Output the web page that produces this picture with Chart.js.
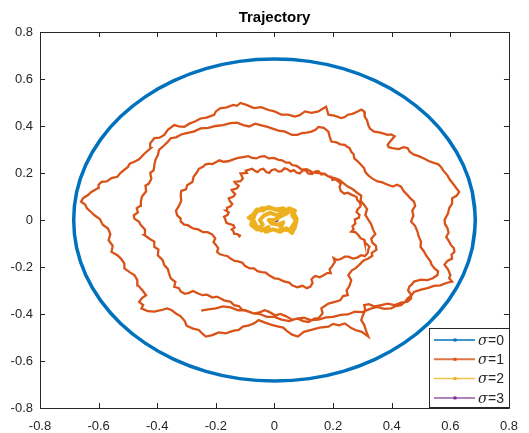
<!DOCTYPE html>
<html>
<head>
<meta charset="utf-8">
<title>Trajectory</title>
<script src="https://cdn.jsdelivr.net/npm/chart.js@4.4.1/dist/chart.umd.min.js"></script>
<style>
  html, body { margin: 0; padding: 0; background: #fff; }
  canvas { display: block; }
</style>
</head>
<body>
<canvas id="traj" width="529" height="433"></canvas>
<script>
// tick values for both axes
const tickValues = [-0.8, -0.6, -0.4, -0.2, 0, 0.2, 0.4, 0.6, 0.8];

// legend labels, one per noise level
const sigmaLabels = ['0', '1', '2', '3'];

// sigma = 0 : noise-free orbit (first/last points overlap so the curve closes smoothly)
const orbit0 = [
  [0.675, -0.119],
  [0.685, 0], [0.675, 0.119], [0.644, 0.234], [0.593, 0.343], [0.525, 0.440],
  [0.440, 0.525], [0.343, 0.593], [0.234, 0.644], [0.119, 0.675], [0, 0.685],
  [-0.119, 0.675], [-0.234, 0.644], [-0.343, 0.593], [-0.440, 0.525], [-0.525, 0.440],
  [-0.593, 0.343], [-0.644, 0.234], [-0.675, 0.119], [-0.685, 0], [-0.675, -0.119],
  [-0.644, -0.234], [-0.593, -0.343], [-0.525, -0.440], [-0.440, -0.525], [-0.343, -0.593],
  [-0.234, -0.644], [-0.119, -0.675], [0, -0.685], [0.119, -0.675], [0.234, -0.644],
  [0.343, -0.593], [0.440, -0.525], [0.525, -0.440], [0.593, -0.343], [0.644, -0.234],
  [0.675, -0.119], [0.685, 0], [0.675, 0.119]
];

// sigma = 1 : noisy spiral, from the inner end outwards
const orbit1 = [
  [-0.122,-0.074],[-0.118,-0.066],[-0.128,-0.060],[-0.138,-0.058],[-0.140,-0.048],[-0.146,-0.040],
  [-0.136,-0.032],[-0.140,-0.022],[-0.152,-0.018],[-0.164,-0.012],[-0.168,0.004],[-0.172,0.014],
  [-0.160,0.022],[-0.156,0.032],[-0.165,0.040],[-0.162,0.052],[-0.150,0.058],[-0.144,0.068],
  [-0.152,0.080],[-0.156,0.092],[-0.140,0.100],[-0.134,0.110],[-0.142,0.120],[-0.146,0.128],
  [-0.128,0.135],[-0.122,0.146],[-0.132,0.155],[-0.136,0.162],[-0.116,0.165],[-0.108,0.176],
  [-0.112,0.188],[-0.116,0.198],[-0.094,0.200],[-0.098,0.210],[-0.086,0.214],[-0.076,0.218],
  [-0.066,0.208],[-0.058,0.204],[-0.048,0.215],[-0.038,0.218],[-0.028,0.204],[-0.018,0.200],
  [-0.010,0.212],[0.002,0.216],[0.014,0.206],[0.024,0.208],[0.034,0.220],[0.044,0.216],
  [0.055,0.207],[0.066,0.212],[0.075,0.202],[0.086,0.198],[0.096,0.210],[0.106,0.212],
  [0.115,0.198],[0.128,0.196],[0.140,0.207],[0.150,0.208],[0.160,0.194],[0.172,0.196],
  [0.183,0.186],[0.194,0.184],[0.198,0.170],[0.206,0.174],[0.217,0.165],[0.226,0.154],
  [0.222,0.140],[0.226,0.124],[0.238,0.112],[0.250,0.116],[0.262,0.108],[0.270,0.104],
  [0.280,0.098],[0.282,0.086],[0.292,0.072],[0.294,0.058],[0.284,0.046],[0.280,0.034],
  [0.290,0.022],[0.288,0.010],[0.274,0.002],[0.276,-0.014],[0.266,-0.028],[0.270,-0.040],
  [0.262,-0.050],[0.276,-0.052],[0.286,-0.064],[0.294,-0.078],[0.306,-0.084],[0.308,-0.096],
  [0.316,-0.104],[0.324,-0.114],[0.320,-0.126],[0.318,-0.140],[0.308,-0.154],[0.296,-0.150],
  [0.282,-0.160],[0.268,-0.164],[0.252,-0.156],[0.240,-0.156],[0.226,-0.166],[0.214,-0.170],
  [0.202,-0.162],[0.206,-0.178],[0.198,-0.194],[0.188,-0.210],[0.192,-0.226],[0.180,-0.226],
  [0.166,-0.236],[0.154,-0.244],[0.140,-0.238],[0.134,-0.242],[0.126,-0.252],[0.130,-0.268],
  [0.122,-0.284],[0.110,-0.290],[0.096,-0.280],[0.078,-0.286],[0.060,-0.278],[0.050,-0.266],
  [0.036,-0.262],[0.026,-0.258],[0.014,-0.250],[0.000,-0.248],[-0.020,-0.234],[-0.030,-0.224],
  [-0.044,-0.222],[-0.058,-0.218],[-0.070,-0.206],[-0.084,-0.206],[-0.100,-0.196],[-0.110,-0.182],
  [-0.124,-0.176],[-0.136,-0.174],[-0.150,-0.164],[-0.160,-0.154],[-0.174,-0.150],[-0.186,-0.146],
  [-0.196,-0.136],[-0.192,-0.120],[-0.200,-0.106],[-0.208,-0.094],[-0.202,-0.078],[-0.212,-0.062],
  [-0.228,-0.052],[-0.244,-0.052],[-0.260,-0.040],[-0.278,-0.036],[-0.296,-0.022],[-0.308,-0.020],
  [-0.320,-0.006],[-0.320,0.006],[-0.332,0.020],[-0.336,0.040],[-0.326,0.060],[-0.318,0.082],
  [-0.320,0.106],[-0.318,0.124],[-0.302,0.130],[-0.298,0.148],[-0.280,0.162],[-0.276,0.184],
  [-0.264,0.204],[-0.258,0.218],[-0.244,0.226],[-0.236,0.236],[-0.224,0.240],[-0.212,0.238],
  [-0.200,0.246],[-0.188,0.254],[-0.174,0.248],[-0.158,0.250],[-0.140,0.258],[-0.124,0.264],
  [-0.106,0.268],[-0.090,0.272],[-0.076,0.264],[-0.062,0.262],[-0.048,0.270],[-0.034,0.272],
  [-0.020,0.262],[-0.002,0.264],[0.014,0.256],[0.026,0.254],[0.040,0.244],[0.052,0.244],
  [0.060,0.234],[0.076,0.230],[0.094,0.214],[0.110,0.216],[0.128,0.204],[0.150,0.200],
  [0.170,0.196],[0.188,0.182],[0.206,0.178],[0.222,0.170],[0.236,0.156],[0.250,0.142],
  [0.266,0.132],[0.284,0.114],[0.296,0.104],[0.294,0.082],[0.306,0.064],[0.316,0.046],
  [0.310,0.022],[0.320,0.002],[0.330,-0.018],[0.336,-0.040],[0.344,-0.060],[0.330,-0.080],
  [0.334,-0.096],[0.346,-0.110],[0.348,-0.126],[0.332,-0.140],[0.334,-0.152],[0.320,-0.164],
  [0.304,-0.172],[0.290,-0.190],[0.276,-0.206],[0.264,-0.214],[0.252,-0.234],[0.262,-0.256],
  [0.256,-0.280],[0.246,-0.300],[0.250,-0.320],[0.234,-0.324],[0.224,-0.342],[0.206,-0.348],
  [0.184,-0.356],[0.160,-0.376],[0.164,-0.398],[0.150,-0.418],[0.136,-0.420],[0.116,-0.434],
  [0.098,-0.430],[0.080,-0.420],[0.060,-0.424],[0.040,-0.410],[0.020,-0.400],[0.004,-0.406],
  [-0.020,-0.390],[-0.034,-0.384],[-0.048,-0.392],[-0.070,-0.398],[-0.094,-0.388],[-0.110,-0.382],
  [-0.122,-0.366],[-0.138,-0.362],[-0.150,-0.348],[-0.172,-0.342],[-0.196,-0.326],[-0.212,-0.330],
  [-0.230,-0.318],[-0.246,-0.320],[-0.262,-0.312],[-0.278,-0.302],[-0.292,-0.310],[-0.306,-0.314],
  [-0.320,-0.304],[-0.326,-0.290],[-0.342,-0.284],[-0.338,-0.264],[-0.354,-0.248],[-0.360,-0.226],
  [-0.364,-0.208],[-0.376,-0.192],[-0.382,-0.170],[-0.398,-0.150],[-0.396,-0.126],[-0.410,-0.114],
  [-0.410,-0.092],[-0.424,-0.082],[-0.444,-0.064],[-0.442,-0.040],[-0.456,-0.022],[-0.462,-0.008],
  [-0.478,0.006],[-0.480,0.020],[-0.466,0.032],[-0.470,0.050],[-0.458,0.060],[-0.456,0.078],
  [-0.452,0.100],[-0.438,0.122],[-0.440,0.146],[-0.428,0.156],[-0.420,0.176],[-0.424,0.200],
  [-0.412,0.212],[-0.410,0.234],[-0.406,0.256],[-0.398,0.276],[-0.394,0.298],[-0.376,0.318],
  [-0.366,0.330],[-0.354,0.348],[-0.336,0.352],[-0.318,0.364],[-0.300,0.370],[-0.276,0.376],
  [-0.252,0.390],[-0.226,0.392],[-0.200,0.400],[-0.176,0.404],[-0.150,0.412],[-0.128,0.414],
  [-0.106,0.404],[-0.086,0.398],[-0.066,0.410],[-0.048,0.404],[-0.024,0.396],[-0.004,0.388],
  [0.014,0.380],[0.036,0.376],[0.060,0.362],[0.078,0.362],[0.094,0.370],[0.110,0.372],
  [0.126,0.376],[0.140,0.384],[0.150,0.396],[0.168,0.392],[0.184,0.376],[0.188,0.356],
  [0.194,0.334],[0.212,0.330],[0.224,0.322],[0.240,0.320],[0.248,0.312],[0.256,0.306],
  [0.262,0.290],[0.270,0.280],[0.272,0.262],[0.284,0.250],[0.296,0.234],[0.306,0.220],
  [0.310,0.204],[0.320,0.190],[0.334,0.176],[0.352,0.164],[0.368,0.160],[0.386,0.150],
  [0.404,0.142],[0.418,0.150],[0.432,0.142],[0.440,0.124],[0.454,0.106],[0.462,0.094],
  [0.476,0.078],[0.480,0.060],[0.470,0.040],[0.474,0.018],[0.466,-0.006],[0.480,-0.026],
  [0.488,-0.050],[0.492,-0.070],[0.500,-0.092],[0.498,-0.114],[0.510,-0.134],[0.518,-0.152],
  [0.532,-0.176],[0.536,-0.190],[0.546,-0.206],[0.558,-0.218],[0.556,-0.234],[0.540,-0.248],
  [0.522,-0.256],[0.500,-0.254],[0.476,-0.262],[0.470,-0.272],[0.460,-0.284],[0.456,-0.300],
  [0.466,-0.318],[0.466,-0.334],[0.454,-0.348],[0.432,-0.352],[0.410,-0.362],[0.386,-0.356],
  [0.364,-0.362],[0.342,-0.368],[0.322,-0.358],[0.306,-0.362],[0.310,-0.384],[0.302,-0.404],
  [0.296,-0.426],[0.306,-0.446],[0.312,-0.470],[0.320,-0.496],[0.298,-0.476],[0.280,-0.470],
  [0.262,-0.460],[0.240,-0.440],[0.220,-0.448],[0.200,-0.442],[0.184,-0.454],[0.154,-0.458],
  [0.126,-0.468],[0.100,-0.476],[0.080,-0.496],[0.060,-0.488],[0.040,-0.470],[0.030,-0.458],
  [0.014,-0.454],[-0.010,-0.446],[-0.030,-0.438],[-0.054,-0.426],[-0.070,-0.440],[-0.090,-0.450],
  [-0.108,-0.454],[-0.122,-0.468],[-0.142,-0.472],[-0.166,-0.482],[-0.190,-0.478],[-0.212,-0.490],
  [-0.234,-0.496],[-0.246,-0.484],[-0.258,-0.468],[-0.278,-0.462],[-0.300,-0.450],[-0.306,-0.430],
  [-0.320,-0.410],[-0.336,-0.398],[-0.350,-0.384],[-0.366,-0.376],[-0.388,-0.384],[-0.410,-0.390],
  [-0.432,-0.388],[-0.454,-0.376],[-0.448,-0.362],[-0.462,-0.348],[-0.452,-0.332],[-0.438,-0.320],
  [-0.450,-0.300],[-0.466,-0.278],[-0.468,-0.256],[-0.478,-0.234],[-0.492,-0.224],[-0.512,-0.206],
  [-0.512,-0.186],[-0.524,-0.164],[-0.536,-0.150],[-0.556,-0.136],[-0.552,-0.110],[-0.566,-0.086],
  [-0.560,-0.060],[-0.568,-0.036],[-0.586,-0.020],[-0.596,0.004],[-0.614,0.020],[-0.624,0.032],
  [-0.640,0.050],[-0.646,0.066],[-0.660,0.078],[-0.652,0.094],[-0.636,0.106],[-0.626,0.118],
  [-0.602,0.136],[-0.600,0.150],[-0.590,0.162],[-0.572,0.164],[-0.556,0.178],[-0.536,0.184],
  [-0.526,0.200],[-0.500,0.226],[-0.494,0.240],[-0.478,0.248],[-0.462,0.258],[-0.444,0.282],
  [-0.422,0.306],[-0.424,0.326],[-0.410,0.348],[-0.392,0.350],[-0.376,0.362],[-0.364,0.384],
  [-0.342,0.404],[-0.326,0.398],[-0.308,0.396],[-0.290,0.410],[-0.270,0.420],[-0.252,0.432],
  [-0.232,0.436],[-0.206,0.448],[-0.200,0.462],[-0.184,0.476],[-0.166,0.478],[-0.140,0.490],
  [-0.128,0.486],[-0.116,0.498],[-0.096,0.490],[-0.070,0.476],[-0.046,0.480],[-0.020,0.468],
  [0.000,0.462],[0.024,0.448],[0.046,0.448],[0.070,0.440],[0.086,0.446],[0.104,0.462],
  [0.126,0.456],[0.150,0.462],[0.160,0.470],[0.176,0.482],[0.180,0.466],[0.184,0.448],
  [0.204,0.444],[0.228,0.434],[0.240,0.438],[0.250,0.448],[0.266,0.452],[0.284,0.462],
  [0.296,0.470],[0.306,0.462],[0.308,0.440],[0.316,0.424],[0.320,0.404],[0.326,0.388],
  [0.340,0.376],[0.362,0.372],[0.386,0.362],[0.398,0.364],[0.410,0.356],[0.396,0.336],
  [0.386,0.320],[0.390,0.310],[0.402,0.306],[0.424,0.302],[0.440,0.310],[0.454,0.306],
  [0.462,0.290],[0.476,0.278],[0.492,0.272],[0.510,0.262],[0.528,0.250],[0.546,0.242],
  [0.558,0.238],[0.568,0.226],[0.576,0.210],[0.590,0.190],[0.598,0.172],[0.612,0.150],
  [0.620,0.136],[0.630,0.120],[0.622,0.104],[0.606,0.092],[0.606,0.070],[0.596,0.050],
  [0.592,0.028],[0.580,0.000],[0.582,-0.018],[0.590,-0.034],[0.594,-0.054],[0.586,-0.072],
  [0.596,-0.092],[0.602,-0.106],[0.612,-0.120],[0.614,-0.136],[0.604,-0.148],[0.606,-0.164],
  [0.590,-0.174],[0.580,-0.190],[0.592,-0.210],[0.600,-0.234],[0.596,-0.248],[0.606,-0.262],
  [0.586,-0.268],[0.566,-0.278],[0.544,-0.280],[0.522,-0.290],[0.500,-0.296],[0.476,-0.306],
  [0.468,-0.320],[0.454,-0.334],[0.446,-0.348],[0.432,-0.362],[0.414,-0.366],[0.398,-0.376],
  [0.374,-0.378],[0.350,-0.370],[0.326,-0.378],[0.300,-0.392],[0.274,-0.390],[0.250,-0.402],
  [0.226,-0.404],[0.200,-0.412],[0.176,-0.414],[0.150,-0.424],[0.124,-0.426],[0.100,-0.416],
  [0.076,-0.420],[0.050,-0.430],[0.024,-0.424],[0.000,-0.412],[-0.026,-0.412],[-0.050,-0.400],
  [-0.074,-0.396],[-0.100,-0.384],[-0.124,-0.384],[-0.150,-0.372],[-0.176,-0.368],[-0.200,-0.376],
  [-0.226,-0.380],[-0.250,-0.386]
];

// sigma = 2 : collapses into a small knot
const orbit2 = [
  [0,0],[0.020,0.015],[0.045,0.030],[0.030,0.050],[0.005,0.045],[-0.020,0.055],[-0.040,0.040],
  [-0.060,0.045],[-0.075,0.020],[-0.088,0.010],[-0.070,-0.005],[-0.060,-0.030],[-0.045,-0.045],
  [-0.020,-0.030],[-0.030,-0.050],[-0.005,-0.040],[0.020,-0.050],[0.040,-0.035],[0.060,-0.055],
  [0.070,-0.030],[0.075,-0.005],[0.060,0.020],[0.070,0.040],[0.050,0.050],[0.030,0.030],
  [0.010,0.020],[-0.015,0.030],[-0.035,0.020],[-0.050,0.000],[-0.040,-0.020],[-0.060,-0.040],
  [-0.080,-0.020],[-0.065,0.030],[-0.045,0.050],[-0.010,0.050],[0.015,0.040],[0.040,0.045],
  [0.065,0.030],[0.076,0.005],[0.065,-0.020],[0.050,-0.045],[0.020,-0.035],[0.030,-0.010],
  [0.015,-0.020],[-0.010,-0.015],[-0.020,0.000],[0,0]
];

// sigma = 3 : stays at the origin
const orbit3 = [
  [0.004,0.001],[0.008,0.003],[0.009,-0.002],[0.005,-0.003],[0.006,0.001]
];

const colors = ['#0072BD', '#D95319', '#EDB120', '#7E2F8E'];
const widths = [3.5, 2.3, 4, 3];
const tensions = [0.4, 0, 0, 0];
const joins = ['round', 'miter', 'round', 'round'];
const axisColor = '#262626';
const fontFamily = '"Liberation Sans", Arial, Helvetica, sans-serif';

const toXY = pts => pts.map(([x, y]) => ({ x, y }));

// box around the axes, inward ticks on all four sides, title and legend
const framePlugin = {
  id: 'frame',
  afterDatasetsDraw(chart) {
    const { ctx, chartArea: a, scales: { x, y } } = chart;
    ctx.save();
    ctx.strokeStyle = axisColor;
    ctx.lineWidth = 1;
    ctx.beginPath();
    ctx.rect(Math.round(a.left) + 0.5, Math.round(a.top) + 0.5,
             Math.round(a.right - a.left), Math.round(a.bottom - a.top));
    const tl = 5;
    tickValues.forEach(v => {
      const px = Math.round(x.getPixelForValue(v)) + 0.5;
      ctx.moveTo(px, a.bottom); ctx.lineTo(px, a.bottom - tl);
      ctx.moveTo(px, a.top); ctx.lineTo(px, a.top + tl);
      const py = Math.round(y.getPixelForValue(v)) + 0.5;
      ctx.moveTo(a.left, py); ctx.lineTo(a.left + tl, py);
      ctx.moveTo(a.right, py); ctx.lineTo(a.right - tl, py);
    });
    ctx.stroke();

    // title
    ctx.fillStyle = '#000';
    ctx.font = 'bold 15px ' + fontFamily;
    ctx.textAlign = 'center';
    ctx.textBaseline = 'middle';
    ctx.fillText('Trajectory', (a.left + a.right) / 2, 18);

    // legend box, lower right corner
    const bx = 429.5, by = 328.5, bw = 80, bh = 79;
    ctx.fillStyle = '#fff';
    ctx.fillRect(bx, by, bw, bh);
    ctx.strokeStyle = axisColor;
    ctx.strokeRect(bx, by, bw, bh);
    chart.data.datasets.forEach((ds, i) => {
      const ry = 340 + i * 19.3;
      ctx.strokeStyle = ds.borderColor;
      ctx.globalAlpha = i === 0 ? 1 : 0.8;
      ctx.lineWidth = i === 1 ? 2 : 1.5;
      ctx.beginPath();
      ctx.moveTo(434, ry); ctx.lineTo(475, ry);
      ctx.stroke();
      ctx.globalAlpha = 1;
      ctx.fillStyle = ds.borderColor;
      ctx.fillRect(453.5, ry - 1.5, 3, 3);
      ctx.fillStyle = axisColor;
      ctx.textAlign = 'left';
      ctx.font = 'italic 14px "DejaVu Serif", serif';
      ctx.fillText('\u03c3', 478, ry + 1);
      const sw = ctx.measureText('\u03c3').width;
      ctx.font = '14px ' + fontFamily;
      ctx.fillText('=' + sigmaLabels[i], 478 + sw + 0.5, ry + 1);
    });
    ctx.restore();
  }
};

const series = [orbit0, orbit1, orbit2, orbit3];

new Chart(document.getElementById('traj'), {
  type: 'scatter',
  data: {
    datasets: series.map((pts, i) => ({
      label: '\u03c3=' + sigmaLabels[i],
      data: toXY(pts),
      showLine: true,
      borderColor: colors[i],
      backgroundColor: colors[i],
      borderWidth: widths[i],
      pointRadius: 0,
      tension: tensions[i],
      fill: false,
      borderJoinStyle: joins[i],
    }))
  },
  options: {
    responsive: false,
    animation: false,
    events: [],
    layout: { padding: { top: 32, right: 17, left: 0, bottom: 0 } },
    plugins: {
      legend: { display: false },
      title: { display: false },
      tooltip: { enabled: false }
    },
    scales: {
      x: {
        type: 'linear', min: -0.8, max: 0.8,
        afterBuildTicks: s => { s.ticks = tickValues.map(v => ({ value: v })); },
        afterFit: s => { s.height = 25; },
        grid: { display: false, drawTicks: false },
        border: { display: false },
        ticks: {
          padding: 11, maxRotation: 0, autoSkip: false,
          color: axisColor, font: { family: fontFamily, size: 13 },
          callback: v => String(Math.round(v * 10) / 10)
        }
      },
      y: {
        type: 'linear', min: -0.8, max: 0.8,
        afterBuildTicks: s => { s.ticks = tickValues.map(v => ({ value: v })); },
        afterFit: s => { s.width = 40; },
        grid: { display: false, drawTicks: false },
        border: { display: false },
        ticks: {
          padding: 7, autoSkip: false,
          color: axisColor, font: { family: fontFamily, size: 13 },
          callback: v => String(Math.round(v * 10) / 10)
        }
      }
    }
  },
  plugins: [framePlugin]
});
</script>
</body>
</html>
